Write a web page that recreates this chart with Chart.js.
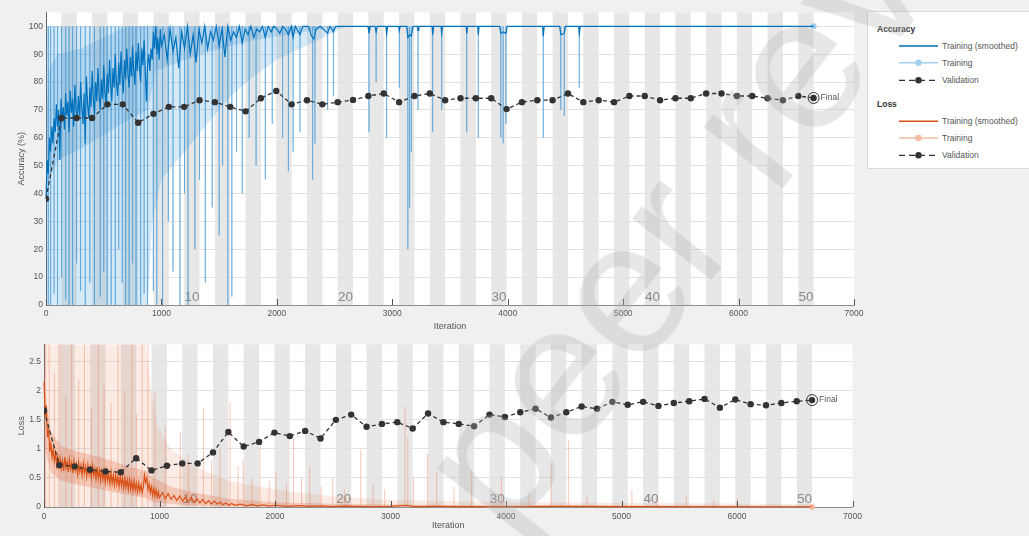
<!DOCTYPE html>
<html><head><meta charset="utf-8">
<script src="https://cdn.jsdelivr.net/npm/chart.js@4.4.0/dist/chart.umd.min.js"></script>
<style>
html,body{margin:0;padding:0;background:#f0f0f0;width:1029px;height:536px;overflow:hidden;font-family:"Liberation Sans",Arial,sans-serif;}
canvas{position:absolute;left:0;}
#c1{top:0;}
#c2{top:335px;}
#legend{position:absolute;left:867px;top:11px;width:175px;height:158px;background:#fff;border:1px solid #d9d9d9;box-sizing:border-box;}
#legend .t{position:absolute;font-size:8.5px;line-height:10px;color:#555;white-space:nowrap;}
#legend .h{position:absolute;font-size:8.5px;line-height:10px;color:#333;font-weight:bold;white-space:nowrap;}
#legend svg{position:absolute;left:0;top:0;}
#wm{position:absolute;left:0;top:0;transform-origin:0 0;transform:translate(508px,540px) rotate(-52deg) translate(0,-160.8px);font-family:"Liberation Sans",Arial,sans-serif;font-size:190px;line-height:1;color:rgba(175,175,175,0.3);white-space:nowrap;pointer-events:none;}
</style></head>
<body>
<canvas id="c1" width="870" height="335"></canvas>
<canvas id="c2" width="870" height="201"></canvas>
<div id="legend">
  <svg width="175" height="158">
    <line x1="31" y1="34" x2="70" y2="34" stroke="#0072BD" stroke-width="1.5"/>
    <line x1="31" y1="50.7" x2="70" y2="50.7" stroke="#a3cfee" stroke-width="1.5"/>
    <circle cx="50.5" cy="50.7" r="3.2" fill="#a3cfee"/>
    <line x1="31" y1="68.3" x2="70" y2="68.3" stroke="#333" stroke-width="1.3" stroke-dasharray="6 4"/>
    <circle cx="50.5" cy="68.3" r="3.2" fill="#333"/>
    <line x1="31" y1="109.3" x2="70" y2="109.3" stroke="#D95319" stroke-width="1.5"/>
    <line x1="31" y1="126" x2="70" y2="126" stroke="#f3bca5" stroke-width="1.5"/>
    <circle cx="50.5" cy="126" r="3.2" fill="#f3bca5"/>
    <line x1="31" y1="143.3" x2="70" y2="143.3" stroke="#333" stroke-width="1.3" stroke-dasharray="6 4"/>
    <circle cx="50.5" cy="143.3" r="3.2" fill="#333"/>
  </svg>
  <div class="h" style="left:9px;top:12px">Accuracy</div>
  <div class="t" style="left:74px;top:29px">Training (smoothed)</div>
  <div class="t" style="left:74px;top:45.7px">Training</div>
  <div class="t" style="left:74px;top:63.3px">Validation</div>
  <div class="h" style="left:9px;top:87.3px">Loss</div>
  <div class="t" style="left:74px;top:104.3px">Training (smoothed)</div>
  <div class="t" style="left:74px;top:121px">Training</div>
  <div class="t" style="left:74px;top:138.3px">Validation</div>
</div>
<div id="wm">peer review</div>
<script>
const FONT = '"Liberation Sans", Arial, sans-serif';

// ---------- DATA ----------
const epochLabels = [10, 20, 30, 40, 50];
const valIter = [0,133,266,399,532,665,798,931,1064,1197,1330,1463,1596,1729,1862,1995,2128,2261,2394,2527,2660,2793,2926,3059,3192,3325,3458,3591,3724,3857,3990,4123,4256,4389,4522,4655,4788,4921,5054,5187,5320,5453,5586,5719,5852,5985,6118,6251,6384,6517,6650];

const valAcc = [38.1,67.1,67.1,67.1,72.0,72.0,65.4,68.6,71.1,71.1,73.5,72.8,71.1,69.5,74.2,76.8,72.0,73.5,72.0,72.8,
73.6,75.0,75.9,72.8,75.0,75.9,73.5,74.2,74.2,74.2,70.3,72.8,73.5,73.5,75.9,72.8,73.5,72.8,75.0,75.0,
73.5,74.2,74.2,75.9,75.9,75.0,75.0,74.2,73.5,75.0,74.3];

const valLoss = [1.66,0.72,0.70,0.64,0.61,0.60,0.84,0.63,0.71,0.75,0.75,0.94,1.29,1.04,1.12,1.28,1.22,1.31,1.18,1.50,1.59,
1.38,1.43,1.46,1.35,1.61,1.46,1.43,1.39,1.59,1.55,1.63,1.69,1.54,1.63,1.73,1.69,1.81,1.76,1.81,
1.74,1.79,1.82,1.86,1.71,1.85,1.77,1.75,1.79,1.82,1.84];

const accSmooth = [
[0,38],[10,52],[20,47],[30,60],[40,55],[50,64],[60,58],[70,67],[80,62],[90,72],
[100,64],[110,70],[120,52],[130,74],[140,66],[150,71],[160,63],[170,76],[180,68],[190,73],
[200,62],[210,77],[220,69],[230,74],[240,64],[250,79],[260,70],[270,66],[280,75],[290,68],
[300,80],[310,71],[320,65],[330,76],[340,58],[350,82],[360,72],[370,67],[380,78],[390,71],
[400,84],[410,74],[420,68],[430,80],[440,73],[450,85],[460,75],[470,70],[480,81],[490,74],
[500,86],[510,77],[520,72],[530,83],[540,76],[550,88],[560,79],[570,73],[580,85],[590,78],
[600,90],[610,80],[620,75],[630,87],[640,79],[650,91],[660,82],[670,76],[680,88],[690,81],
[700,92],[710,83],[720,78],[730,89],[740,82],[750,93],[760,84],[770,79],[780,91],[790,84],
[800,94],[810,85],[820,80],[830,92],[840,86],[850,95],[860,84],[870,73],[880,86],[890,90],
[900,84],[910,92],[920,88],[930,98],[940,92],[950,100],[960,90],[970,96],[980,88],[990,99],
[1000,93],[1025,97],[1050,88],[1075,99],[1100,91],[1125,96],[1150,85],[1175,98],[1200,92],[1225,100],
[1250,90],[1275,97],[1300,87],[1325,99],[1350,94],[1375,100],[1400,92],[1425,98],[1450,95],[1475,100],
[1500,93],[1525,99],[1550,89],[1575,100],[1600,95],[1625,98],[1650,96],[1675,100],[1700,94],[1725,99],
[1750,97],[1775,100],[1800,96],[1825,99],[1850,98],[1875,100],[1900,96],[1925,100],[1950,98],[1975,100],
[2000,99],[2025,97.5],[2050,100],[2075,99],[2100,97],[2125,100],[2140,96],[2160,100],[2200,97],[2225,100],
[2275,100],[2300,96.5],[2320,95.5],[2340,99],[2375,100],[2440,97.5],[2460,100],[2490,98],[2510,100],
[2790,100],[2798,97.5],[2810,100],[2850,100],[2860,98],[2870,100],[2945,100],[2951,97.5],[2960,100],
[3055,100],[3061,98.5],[3068,100],[3125,100],[3135,96],[3150,97],[3165,96.5],[3180,100],
[3218,100],[3223,98.5],[3230,100],[3345,100],[3350,97],[3358,100],[3422,100],[3428,97.5],[3435,100],
[3640,100],[3645,97.5],[3652,100],[3740,100],[3745,97],[3752,100],[3930,100],[3940,97.5],[3960,98],[3985,97.5],[3995,100],
[4302,100],[4308,96.5],[4316,100],[4450,100],[4460,97],[4490,97.5],[4500,100],[4615,100],[4620,97.5],[4628,100],[6650,100]
];

// raw mini-batch accuracy: envelope of the dense haze, the core band, and individual downward spikes [iteration, min]
const accRawOuterLo = [[0,0],[880,0],[920,30],[1000,45],[1200,55],[1400,65],[1600,75],[1800,82],[2000,88],[2200,92],[2400,96],[2600,100],[6650,100]];
const accRawOuterHi = [[0,100],[6650,100]];
const accRawCoreLo = [[0,30],[30,45],[100,52],[300,56],[500,61],[700,66],[880,70],[950,84],[1200,88],[1500,92],[1800,95],[2100,97],[2400,99],[2600,100],[6650,100]];
const accRawCoreHi = [[0,65],[30,85],[100,90],[300,92],[500,96],[700,100],[6650,100]];
const accRawSpikes = [[20,0],[40,0],[70,4],[100,0],[135,10],[170,2],[200,0],[230,0],[265,15],[300,5],[340,0],[380,8],[420,0],[470,3],
[500,12],[530,0],[565,0],[600,0],[630,20],[660,8],[690,0],[720,0],[750,15],[780,0],[820,0],[850,4],
[880,0],[930,5],[960,0],[1010,0],[1060,30],[1100,12],[1160,0],[1200,40],[1230,0],[1290,20],[1330,45],[1380,8],[1440,35],[1500,25],
[1530,50],[1575,0],[1610,3],[1650,55],[1700,40],[1760,60],[1820,50],[1900,45],[1960,65],[2050,60],[2100,48],[2140,55],[2200,62],
[2310,45],[2330,58],[2440,70],[2490,75],[2798,62],[2860,80],[2951,60],[3061,78],[3135,20],[3150,35],[3165,55],[3223,70],[3350,62],
[3428,70],[3645,62],[3745,60],[3940,60],[3960,58],[3985,65],[4308,60],[4460,70],[4490,68],[4620,78]];
const accRawFinal = [[6650,100]];

const lossSmooth = [
[0,2.15],[10,1.55],[20,1.75],[30,1.2],[40,1.35],[50,0.95],[60,1.1],[70,0.85],[80,1.0],[90,0.78],
[100,0.92],[110,0.72],[120,0.88],[130,0.7],[140,0.84],[150,0.66],[160,0.8],[170,0.62],[180,0.86],[190,0.68],
[200,0.78],[210,0.6],[220,0.82],[230,0.65],[240,0.76],[250,0.58],[260,0.8],[270,0.63],[280,0.74],[290,0.56],
[300,0.77],[310,0.6],[320,0.72],[330,0.54],[340,0.75],[350,0.58],[360,0.7],[370,0.52],[380,0.73],[390,0.56],
[400,0.68],[410,0.5],[420,0.71],[430,0.54],[440,0.66],[450,0.48],[460,0.69],[470,0.5],[480,0.63],[490,0.45],
[500,0.66],[510,0.47],[520,0.6],[530,0.42],[540,0.62],[550,0.44],[560,0.58],[570,0.4],[580,0.6],[590,0.41],
[600,0.55],[610,0.37],[620,0.57],[630,0.39],[640,0.52],[650,0.35],[660,0.54],[670,0.36],[680,0.5],[690,0.33],
[700,0.5],[710,0.34],[720,0.47],[730,0.3],[740,0.48],[750,0.31],[760,0.44],[770,0.28],[780,0.45],[790,0.29],
[800,0.41],[810,0.26],[820,0.42],[830,0.27],[840,0.38],[850,0.25],[860,0.35],[870,0.55],[880,0.42],[890,0.5],
[900,0.3],[910,0.4],[920,0.24],[930,0.35],[940,0.2],[950,0.32],[960,0.19],[970,0.3],[980,0.17],[990,0.27],
[1000,0.16],[1025,0.25],[1050,0.14],[1075,0.23],[1100,0.13],[1125,0.2],[1150,0.11],[1175,0.19],[1200,0.1],[1225,0.17],
[1250,0.09],[1275,0.16],[1300,0.08],[1325,0.14],[1350,0.07],[1375,0.13],[1400,0.06],[1425,0.11],[1450,0.05],[1475,0.1],
[1500,0.05],[1525,0.08],[1550,0.04],[1575,0.07],[1600,0.03],[1625,0.06],[1650,0.03],[1700,0.05],[1750,0.02],[1800,0.04],
[1850,0.02],[1900,0.035],[1950,0.015],[2000,0.03],[2100,0.012],[2200,0.025],[2300,0.01],[2400,0.02],[2500,0.008],[2600,0.015],
[2800,0.006],[3000,0.012],[3130,0.03],[3200,0.008],[3400,0.01],[3600,0.006],[4000,0.008],[4500,0.01],[5000,0.005],[6650,0.004]
];

// raw mini-batch loss: haze envelope, core band and upward spikes [iteration, max]
const lossRawOuterLo = [[0,0],[6650,0]];
const lossRawOuterHi = [[0,2.8],[880,2.8],[920,2.1],[980,1.4],[1100,1.0],[1300,0.7],[1600,0.45],[2000,0.3],[2500,0.18],[3000,0.12],[4000,0.08],[6650,0.05]];
const lossRawCoreLo = [[0,1.2],[20,0.9],[60,0.6],[150,0.45],[300,0.38],[500,0.3],[700,0.22],[880,0.15],[950,0.08],[1100,0.05],[1300,0.02],[1600,0.01],[2000,0],[6650,0]];
const lossRawCoreHi = [[0,2.4],[20,1.8],[60,1.3],[150,1.05],[300,0.95],[500,0.85],[700,0.72],[880,0.62],[950,0.5],[1100,0.35],[1300,0.25],[1600,0.14],[2000,0.08],[2600,0.05],[3500,0.035],[6650,0.02]];
const lossRawSpikes = [[15,2.8],[45,2.8],[90,2.3],[130,2.8],[190,1.9],[240,2.8],[300,2.2],[350,2.8],[410,1.7],[470,2.8],[520,2.1],
[580,1.8],[640,2.8],[700,2.0],[760,2.8],[800,1.6],[850,2.8],[900,2.8],[960,2.0],[1050,1.4],[1180,1.3],[1250,0.9],[1380,1.7],
[1450,0.8],[1525,1.0],[1610,1.8],[1680,0.7],[1725,0.8],[1800,0.5],[1870,1.1],[1950,0.45],[2010,0.6],[2100,0.4],[2160,1.2],
[2230,0.5],[2300,0.7],[2400,0.35],[2500,0.5],[2600,0.3],[2742,0.98],[2850,0.4],[2950,0.3],[3126,1.73],[3150,1.2],[3200,0.5],
[3320,0.92],[3400,0.6],[3550,0.35],[3700,0.63],[3960,0.52],[4200,0.25],[4390,0.72],[4540,1.15],[4700,0.2],[5090,0.29],
[5300,0.15],[5560,0.2],[5800,0.12],[6000,0.15]];
const lossRawFinal = [[6650,0]];

// ---------- helpers ----------
const pts = arr => arr.map(([x, y]) => ({x, y}));
const zipPts = (xs, ys) => xs.map((x, i) => ({x, y: ys[i]}));
function spikePts(list, base) {
  const out = [];
  for (const [it, v] of list) { out.push({x: it, y: base}, {x: it, y: v}, {x: it, y: null}); }
  return out;
}

function decoPlugin(finalLabelY) {
  return {
    id: 'deco',
    beforeDraw(chart) {
      const {ctx, chartArea: a, scales: {x}} = chart;
      ctx.save();
      ctx.fillStyle = '#ffffff';
      ctx.fillRect(a.left, a.top, a.right - a.left, a.bottom - a.top);
      ctx.fillStyle = '#e7e7e7';
      for (let k = 2; k < valIter.length; k += 2) {
        const x0 = x.getPixelForValue(valIter[k - 1]), x1 = x.getPixelForValue(valIter[k]);
        ctx.fillRect(x0, a.top, x1 - x0, a.bottom - a.top);
      }
      ctx.restore();
    },
    beforeDatasetsDraw(chart) {
      const {ctx, chartArea: a, scales: {x}} = chart;
      ctx.save();
      ctx.fillStyle = '#8a8a8a';
      ctx.font = '13.5px ' + FONT;
      ctx.textAlign = 'right';
      ctx.textBaseline = 'alphabetic';
      for (const e of epochLabels) {
        ctx.fillText(String(e), x.getPixelForValue(valIter[e]), a.bottom - 4.5);
      }
      ctx.restore();
    },
    afterDraw(chart) {
      const {ctx, chartArea: a, scales: {x, y}} = chart;
      ctx.save();
      ctx.strokeStyle = '#555';
      ctx.lineWidth = 1;
      for (const t of x.ticks) {
        const px = Math.round(x.getPixelForValue(t.value)) + 0.5;
        ctx.beginPath(); ctx.moveTo(px, a.bottom); ctx.lineTo(px, a.bottom - 6); ctx.stroke();
      }
      const last = valIter.length - 1;
      ctx.fillStyle = '#555';
      ctx.font = '8.5px ' + FONT;
      ctx.textAlign = 'left';
      ctx.textBaseline = 'middle';
      ctx.fillText('Final', x.getPixelForValue(valIter[last]) + 7, y.getPixelForValue(finalLabelY));
      ctx.restore();
    }
  };
}

function makeChart(id, cfg) {
  const isStep = v => Math.abs(v / cfg.yStep - Math.round(v / cfg.yStep)) < 1e-6;
  const tickFont = {size: 8.5, family: FONT};
  const last = valIter.length - 1;
  const datasets = [
    {label: 'Validation', data: zipPts(valIter, cfg.val), borderColor: '#333', borderWidth: 1.3, borderDash: [4, 3],
     pointRadius: 3.2, pointBackgroundColor: '#333', pointBorderWidth: 0, order: 0},
    {label: 'Final', data: [{x: valIter[last], y: cfg.val[last]}], showLine: false, pointRadius: 5.5,
     pointBackgroundColor: 'rgba(0,0,0,0)', pointBorderColor: '#333', pointBorderWidth: 1, order: 0},
    {label: 'Training (smoothed)', data: pts(cfg.smooth), borderColor: cfg.main, borderWidth: 1.2, pointRadius: 0, order: 1, clip: 2},
    {label: 'Training final', data: pts(cfg.rawFinal), showLine: false, pointRadius: 3, pointBackgroundColor: cfg.light, pointBorderWidth: 0, order: 1, clip: 4},
    {label: 'Training spikes', data: spikePts(cfg.spikes, cfg.spikeBase), borderColor: cfg.spikeColor, borderWidth: 1, pointRadius: 0, spanGaps: false, order: 2},
    {label: 'core lo', data: pts(cfg.coreLo), borderWidth: 0, pointRadius: 0, fill: false, order: 3},
    {label: 'core hi', data: pts(cfg.coreHi), borderWidth: 0, pointRadius: 0, fill: '-1', backgroundColor: cfg.coreColor, order: 3},
    {label: 'outer lo', data: pts(cfg.outerLo), borderWidth: 0, pointRadius: 0, fill: false, order: 4},
    {label: 'outer hi', data: pts(cfg.outerHi), borderWidth: 0, pointRadius: 0, fill: '-1', backgroundColor: cfg.outerColor, order: 4}
  ];
  return new Chart(document.getElementById(id), {
    type: 'line',
    data: {datasets},
    plugins: [decoPlugin(cfg.val[last])],
    options: {
      responsive: false, animation: false, devicePixelRatio: 1,
      layout: {padding: {top: cfg.padTop, right: cfg.padRight, left: 0, bottom: 0}},
      plugins: {legend: {display: false}, tooltip: {enabled: false}},
      elements: {line: {tension: 0}},
      scales: {
        x: {
          type: 'linear', min: 0, max: 7000, offset: false,
          ticks: {stepSize: 1000, color: '#555', font: tickFont, padding: cfg.xPad, maxRotation: 0, autoSkip: false,
                  callback: v => String(v)},
          grid: {display: false, drawTicks: false},
          border: {display: true, color: '#8c8c8c', width: 1},
          title: {display: true, text: 'Iteration', color: '#555', font: {size: 9, family: FONT}, padding: {top: 0, bottom: cfg.xTitlePad}},
          afterFit(s) { s.height = cfg.xHeight; }
        },
        y: {
          type: 'linear', min: cfg.yMin, max: cfg.yMax,
          afterBuildTicks(s) { s.ticks = s.ticks.filter(t => isStep(t.value)); },
          ticks: {stepSize: cfg.yStep, color: '#555', font: tickFont, padding: 3,
                  callback: v => String(Math.round(v * 100) / 100)},
          grid: {color: '#e2e2e2', drawTicks: false},
          border: {display: true, color: '#666', width: 1},
          title: {display: true, text: cfg.yTitle, color: '#555', font: {size: 9, family: FONT}, padding: {top: 16, bottom: 0}},
          afterFit(s) { s.width = cfg.yWidth; }
        }
      }
    }
  });
}

makeChart('c1', {
  val: valAcc, smooth: accSmooth, rawFinal: accRawFinal, spikes: accRawSpikes, spikeBase: 100,
  coreLo: accRawCoreLo, coreHi: accRawCoreHi, outerLo: accRawOuterLo, outerHi: accRawOuterHi,
  main: '#0072BD', light: '#9fcdee', spikeColor: 'rgba(60,150,215,0.38)',
  coreColor: 'rgba(40,135,205,0.20)', outerColor: 'rgba(70,155,215,0.22)',
  yMin: 0, yMax: 105, yStep: 10, yTitle: 'Accuracy (%)',
  padTop: 12.4, padRight: 16, yWidth: 46, xHeight: 30, xPad: 4, xTitlePad: 3
});

makeChart('c2', {
  val: valLoss, smooth: lossSmooth, rawFinal: lossRawFinal, spikes: lossRawSpikes, spikeBase: 0,
  coreLo: lossRawCoreLo, coreHi: lossRawCoreHi, outerLo: lossRawOuterLo, outerHi: lossRawOuterHi,
  main: '#D95319', light: '#f3bca5', spikeColor: 'rgba(235,125,85,0.42)',
  coreColor: 'rgba(225,100,55,0.26)', outerColor: 'rgba(230,120,80,0.15)',
  yMin: 0, yMax: 2.8, yStep: 0.5, yTitle: 'Loss',
  padTop: 9.3, padRight: 17.5, yWidth: 44, xHeight: 29, xPad: 5, xTitlePad: 4.6
});
</script>
</body></html>
